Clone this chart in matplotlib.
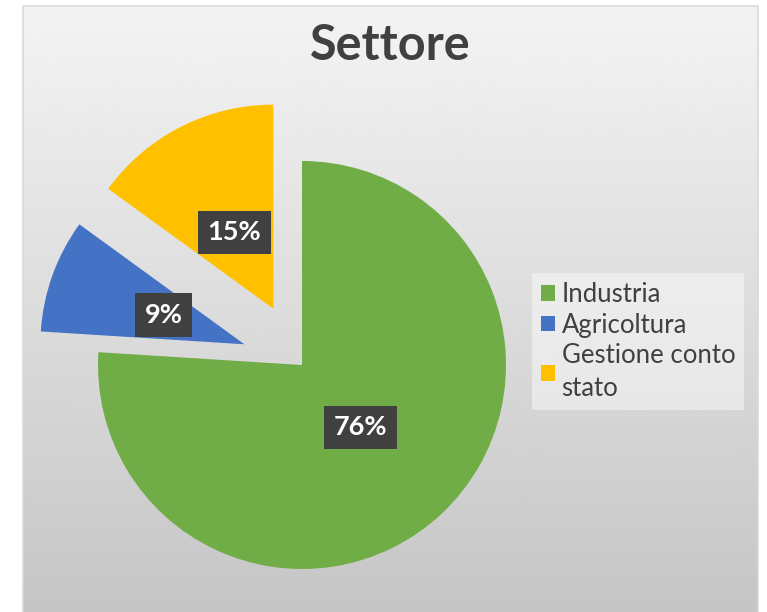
import numpy as np
import matplotlib
matplotlib.use("Agg")
import matplotlib.pyplot as plt
from matplotlib.patches import Rectangle

plt.rcParams['font.family'] = ['Lato', 'DejaVu Sans']

# data
settori = ['Industria', 'Agricoltura', 'Gestione conto\nstato']
quote = [76, 9, 15]
colori = ['#70AD47', '#4472C4', '#FFC000']
esplodi = [0.0, 0.30, 0.31]

W, H = 767, 612
fig = plt.figure(figsize=(W / 100, H / 100), dpi=100)
fig.patch.set_facecolor('white')

# background of the chart area (gradient + thin border)
bg = fig.add_axes([0, 0, 1, 1], zorder=0)
bg.set_xlim(0, W)
bg.set_ylim(H, 0)
bg.axis('off')
grad = np.linspace(0.955, 0.775, 256).reshape(-1, 1)
bg.imshow(grad, cmap='gray', vmin=0, vmax=1, aspect='auto',
          extent=(23, 758, H, 6), interpolation='bicubic')
bg.add_patch(Rectangle((23, 6), 735, H, fill=False, edgecolor='#d9d9d9', lw=1.2))

# pie
r_px = 204
cx, cy = 302, 365
lim = 1.6
side = 2 * lim * r_px
ax = fig.add_axes([(cx - side / 2) / W, (H - cy - side / 2) / H, side / W, side / H], zorder=1)
ax.patch.set_alpha(0)

wedges, texts, autotexts = ax.pie(
    quote, colors=colori, explode=esplodi, startangle=90, counterclock=False,
    autopct=lambda p: '{:.0f}%'.format(p), pctdistance=0.42,
    wedgeprops=dict(linewidth=0))
for t in autotexts:
    t.set_color('white')
    t.set_fontsize(19.5)
    t.set_fontweight('bold')
    t.set_bbox(dict(boxstyle='square,pad=0.36', facecolor='#404040', edgecolor='none'))
ax.set_xlim(-lim, lim)
ax.set_ylim(-lim, lim)
ax.axis('off')

fig.text(390 / W, 1 - 46 / H, 'Settore', ha='center', va='center',
         fontsize=35, fontweight='bold', color='#404040', zorder=3)

leg = fig.legend(wedges, settori, loc='upper left', bbox_to_anchor=(532 / W, 1 - 273 / H),
                 fontsize=18.5, frameon=True, fancybox=False, borderaxespad=0,
                 handlelength=0.55, handleheight=0.55, handletextpad=0.25,
                 labelspacing=0.22, borderpad=0.35, labelcolor='#404040')
for t in leg.get_texts():
    t.set_linespacing(1.4)
leg.get_frame().set_facecolor('white')
leg.get_frame().set_alpha(0.45)
leg.get_frame().set_edgecolor('none')
leg.set_zorder(4)

fig.savefig('out.png', dpi=100)
